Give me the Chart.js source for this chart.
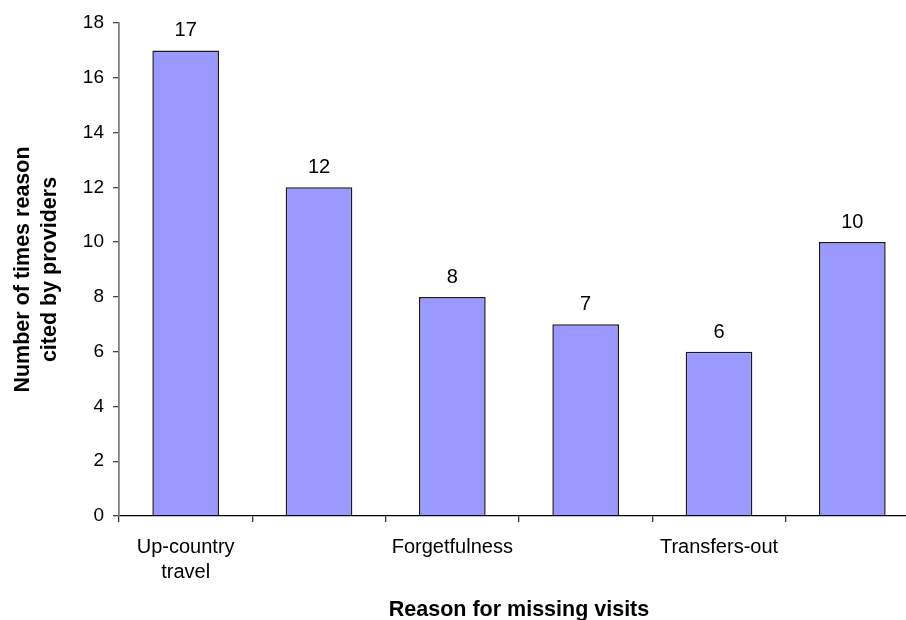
<!DOCTYPE html>
<html>
<head>
<meta charset="utf-8">
<script src="https://cdn.jsdelivr.net/npm/chart.js@4.4.1/dist/chart.umd.min.js"></script>
<style>
  html, body { margin: 0; padding: 0; background: #fff; overflow: hidden; }
  #wrap { width: 920px; height: 624px; }
</style>
</head>
<body>
<div id="wrap"><canvas id="c" width="920" height="624"></canvas></div>
<script>
// Reasons given by providers for missed clinic visits
const categories = [
  ['Up-country', 'travel'],
  '',
  'Forgetfulness',
  '',
  'Transfers-out',
  ''
];
const timesCited = [17, 12, 8, 7, 6, 10];
const yTicks = { min: 0, max: 18, step: 2 };

const FONT = '"Liberation Sans", Arial, Helvetica, sans-serif';

// Writes each bar's value above it
const valueLabels = {
  id: 'valueLabels',
  afterDatasetsDraw(chart) {
    const ctx = chart.ctx;
    const meta = chart.getDatasetMeta(0);
    const values = chart.data.datasets[0].data;
    ctx.save();
    ctx.font = '20px ' + FONT;
    ctx.fillStyle = '#000';
    ctx.textAlign = 'center';
    ctx.textBaseline = 'alphabetic';
    meta.data.forEach((bar, i) => {
      ctx.fillText(String(values[i]), bar.x, bar.y - 14);
    });
    ctx.restore();
  }
};

new Chart(document.getElementById('c'), {
  type: 'bar',
  data: {
    labels: categories,
    datasets: [{
      data: timesCited,
      backgroundColor: '#9999FF',
      borderColor: '#1a1a1a',
      borderWidth: 1.5,
      borderSkipped: 'start',
      categoryPercentage: 0.5,
      barPercentage: 1.0
    }]
  },
  options: {
    responsive: false,
    animation: false,
    layout: { padding: { top: 23, right: 1, bottom: 0, left: 0 } },
    plugins: {
      legend: { display: false },
      tooltip: { enabled: false }
    },
    scales: {
      x: {
        grid: {
          offset: true,
          drawOnChartArea: false,
          tickLength: 6,
          color: '#333',
          lineWidth: 1.3
        },
        border: { color: '#000', width: 1.3 },
        ticks: {
          autoSkip: false,
          maxRotation: 0,
          minRotation: 0,
          padding: 12.5,
          color: '#000',
          font: { family: FONT, size: 20, lineHeight: 1.25 }
        },
        title: {
          display: true,
          text: 'Reason for missing visits',
          color: '#000',
          font: { family: FONT, size: 21.5, weight: 'bold', lineHeight: 1.2 },
          padding: { top: 0, bottom: 1 }
        },
        afterFit(scale) { scale.height = 108; }
      },
      y: {
        min: yTicks.min,
        max: yTicks.max,
        grid: {
          drawOnChartArea: false,
          tickLength: 6,
          color: '#444',
          lineWidth: 1.3
        },
        border: { color: '#808080', width: 1.8 },
        ticks: {
          stepSize: yTicks.step,
          padding: 9,
          color: '#000',
          font: { family: FONT, size: 19 }
        },
        title: {
          display: true,
          text: ['Number of times reason', 'cited by providers'],
          color: '#000',
          font: { family: FONT, size: 21.5, weight: 'bold', lineHeight: 1.25 },
          padding: { top: 10, bottom: 0 }
        },
        afterFit(scale) { scale.width = 119; }
      }
    }
  },
  plugins: [valueLabels]
});
</script>
</body>
</html>
